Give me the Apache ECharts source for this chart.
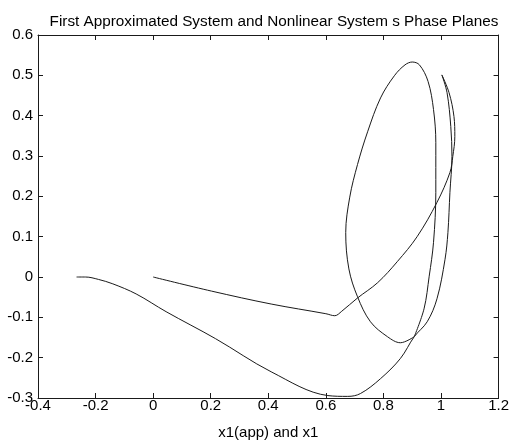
<!DOCTYPE html>
<html>
<head>
<meta charset="utf-8">
<script src="https://cdn.jsdelivr.net/npm/echarts@6/dist/echarts.min.js"></script>
<style>
  html, body { margin: 0; padding: 0; background: #fff; }
  #chart { width: 512px; height: 445px; }
</style>
</head>
<body>
<div id="chart"></div>
<script>
const titleText = 'First Approximated System and Nonlinear System s Phase Planes'
const xLabel = 'x1(app) and x1'

// x1, x2 pairs
const curveFromOrigin = [
  [0.0, 0.0], [0.203, -0.035], [0.41, -0.067], [0.6, -0.091], [0.631, -0.096],
  [0.655, -0.085], [0.71, -0.052], [0.78, -0.014], [0.848, 0.038], [0.917, 0.1],
  [0.986, 0.185], [1.031, 0.259], [1.041, 0.299], [1.048, 0.348],
  [1.045, 0.398], [1.028, 0.457], [1.003, 0.501]
]
const curveFromLeft = [
  [-0.266, 0.0], [-0.235, 0.0], [-0.19, -0.006], [-0.14, -0.017], [-0.059, -0.042],
  [0.045, -0.086], [0.217, -0.153], [0.41, -0.235], [0.607, -0.294],
  [0.676, -0.296], [0.72, -0.289], [0.79, -0.252], [0.859, -0.202],
  [0.907, -0.148], [0.952, -0.111], [0.986, -0.054], [1.014, 0.044],
  [1.024, 0.11], [1.031, 0.21], [1.038, 0.299], [1.034, 0.373],
  [1.021, 0.457], [1.003, 0.501]
]
const loopCurve = [
  [0.907, -0.148], [0.941, -0.079], [0.959, 0.002],
  [0.974, 0.086], [0.982, 0.21], [0.982, 0.333], [0.974, 0.415],
  [0.955, 0.485], [0.925, 0.526], [0.9, 0.533], [0.875, 0.526], [0.838, 0.499],
  [0.79, 0.444], [0.745, 0.36], [0.71, 0.279], [0.683, 0.198],
  [0.669, 0.11], [0.68, 0.02], [0.71, -0.049],
  [0.755, -0.111], [0.814, -0.148], [0.859, -0.163], [0.907, -0.148]
]

const font = 'Liberation Sans, Arial, sans-serif'
const ink = '#1a1a1a'

const chart = echarts.init(document.getElementById('chart'))

function frameAxis(pos, extra) {
  return Object.assign({
    type: 'value',
    position: pos,
    axisLine: { show: true, onZero: false, lineStyle: { color: ink, width: 1 } },
    axisTick: { show: true, inside: true, length: 5, lineStyle: { color: ink } },
    splitLine: { show: false },
    axisLabel: { show: false }
  }, extra)
}

const xRange = { min: -0.4, max: 1.2, interval: 0.2 }
const yRange = { min: -0.3, max: 0.6, interval: 0.1 }

function fmt(v) {
  return String(Math.round(v * 10) / 10)
}

const lineSeries = (name, data) => ({
  name,
  type: 'line',
  data,
  smooth: 0.35,
  showSymbol: false,
  lineStyle: { color: ink, width: 1 },
  animation: false
})

chart.setOption({
  backgroundColor: '#fff',
  title: {
    text: titleText,
    left: 269,
    textAlign: 'center',
    top: 9,
    textStyle: { fontFamily: font, fontSize: 15.3, fontWeight: 'normal', color: '#000' }
  },
  grid: { left: 38, right: 10, top: 35, bottom: 46 },
  xAxis: [
    frameAxis('bottom', Object.assign({}, xRange, {
      name: xLabel,
      nameLocation: 'middle',
      nameGap: 27,
      nameTextStyle: { fontFamily: font, fontSize: 15, color: '#000' },
      axisLabel: { show: true, margin: 0, fontFamily: font, fontSize: 15, color: '#000', formatter: fmt }
    })),
    frameAxis('top', Object.assign({}, xRange))
  ],
  yAxis: [
    frameAxis('left', Object.assign({}, yRange, {
      axisLabel: { show: true, margin: 5, fontFamily: font, fontSize: 15, color: '#000', formatter: fmt }
    })),
    frameAxis('right', Object.assign({}, yRange))
  ],
  series: [
    lineSeries('x1(app)', curveFromOrigin),
    lineSeries('x1', curveFromLeft),
    lineSeries('loop', loopCurve)
  ]
})
</script>
</body>
</html>
